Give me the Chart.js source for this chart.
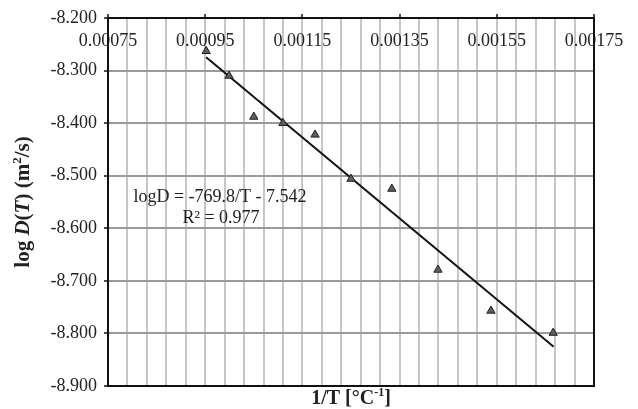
<!DOCTYPE html>
<html><head><meta charset="utf-8">
<script src="https://cdn.jsdelivr.net/npm/chart.js@4/dist/chart.umd.min.js"></script>
<style>html,body{margin:0;padding:0;background:#fff;}#wrap{width:638px;height:409px;}</style>
</head><body><div id="wrap"><canvas id="c" width="638" height="409"></canvas></div>
<script>
// ---- data ----
const invT = [0.000952, 0.000999, 0.00105, 0.00111, 0.001176, 0.00125, 0.001334, 0.001429, 0.001538, 0.001666];
const logD = [-8.263, -8.310, -8.388, -8.400, -8.422, -8.506, -8.525, -8.679, -8.757, -8.799];
const fitSlope = -769.8;
const fitIntercept = -7.542;
const fitRange = [0.000952, 0.001667];
const xTickLabels = ['0.00075', '0.00095', '0.00115', '0.00135', '0.00155', '0.00175'];
const yTickLabels = ['-8.900', '-8.800', '-8.700', '-8.600', '-8.500', '-8.400', '-8.300', '-8.200'];
const eqLines = ['logD = -769.8/T - 7.542', 'R\u00b2 = 0.977'];

const SERIF = '"Liberation Serif", "Times New Roman", serif';

const points = invT.map((x, i) => ({x: x, y: logD[i]}));
const fitLine = fitRange.map(x => ({x: x, y: fitSlope * x + fitIntercept}));

const textPlugin = {
  id: 'texts',
  afterDatasetsDraw(chart) {
    const ctx = chart.ctx;
    ctx.save();
    ctx.fillStyle = '#222';
    ctx.font = '18px ' + SERIF;
    ctx.textAlign = 'center';
    ctx.textBaseline = 'middle';
    ctx.fillText(eqLines[0], 220, 197);
    ctx.fillText(eqLines[1], 221, 218);

    // y axis title with italic parts
    const segs = [['log ', 'bold'], ['D', 'italic bold'], ['(', 'bold'], ['T', 'italic bold'], [') (m', 'bold'], ['2', 'sup'], ['/s)', 'bold']];
    const fontY = s => s === 'sup' ? 'bold 13px ' + SERIF : s + ' 21px ' + SERIF;
    const fontX = s => s === 'sup' ? 'bold 12px ' + SERIF : s + ' 20px ' + SERIF;
    let total = 0;
    segs.forEach(s => { ctx.font = fontY(s[1]); total += ctx.measureText(s[0]).width; });
    ctx.translate(24, 202);
    ctx.rotate(-Math.PI / 2);
    ctx.textAlign = 'left';
    let x = -total / 2;
    segs.forEach(s => {
      ctx.font = fontY(s[1]);
      ctx.fillText(s[0], x, s[1] === 'sup' ? -6 : 0);
      x += ctx.measureText(s[0]).width;
    });
    ctx.setTransform(1, 0, 0, 1, 0, 0);

    // x axis title
    const xs = [['1/T [\u00b0C', 'bold'], ['-1', 'sup'], [']', 'bold']];
    total = 0;
    xs.forEach(s => { ctx.font = fontX(s[1]); total += ctx.measureText(s[0]).width; });
    x = 351 - total / 2;
    xs.forEach(s => {
      ctx.font = fontX(s[1]);
      ctx.fillText(s[0], x, s[1] === 'sup' ? 393 : 399);
      x += ctx.measureText(s[0]).width;
    });
    ctx.restore();
  }
};

new Chart(document.getElementById('c'), {
  type: 'scatter',
  data: {
    datasets: [
      {
        type: 'line', data: fitLine, borderColor: '#111', borderWidth: 2,
        pointRadius: 0, fill: false, tension: 0, order: 2
      },
      {
        data: points, pointStyle: 'triangle', pointRadius: 4.8,
        backgroundColor: '#5e5e5e', borderColor: '#222', borderWidth: 1, order: 1
      }
    ]
  },
  options: {
    responsive: false,
    animation: false,
    devicePixelRatio: 1,
    layout: {padding: {left: 0, top: 14, right: 44, bottom: 0}},
    plugins: {legend: {display: false}, tooltip: {enabled: false}},
    scales: {
      x: {
        type: 'linear', position: 'top', min: 0.00075, max: 0.00175,
        afterFit: s => { s.height = 4; },
        ticks: {
          stepSize: 0.00004, autoSkip: false, maxRotation: 0, minRotation: 0,
          mirror: true, padding: 12, color: '#222', font: {family: SERIF, size: 18},
          callback: (v, i) => (i % 5 === 0 ? xTickLabels[i / 5] : '')
        },
        grid: {
          color: '#c6c6ca', lineWidth: 2, tickLength: 4,
          tickColor: c => (c.index % 5 === 0 ? '#111' : 'rgba(0,0,0,0)'), tickWidth: 1.5
        },
        border: {display: true, color: '#111', width: 2}
      },
      x2: {
        type: 'linear', position: 'bottom', min: 0.00075, max: 0.00175,
        afterFit: s => { s.height = 23; },
        ticks: {display: false},
        grid: {display: true, drawOnChartArea: false, drawTicks: false},
        border: {display: true, color: '#111', width: 2}
      },
      y: {
        type: 'linear', position: 'left', min: -8.9, max: -8.2,
        afterFit: s => { s.width = 108; },
        ticks: {
          stepSize: 0.1, padding: 7, color: '#222', font: {family: SERIF, size: 18},
          callback: (v, i) => yTickLabels[i]
        },
        grid: {color: '#9a9a9a', lineWidth: 2, tickLength: 4, tickColor: '#111', tickWidth: 1.5},
        border: {display: true, color: '#111', width: 2}
      },
      y2: {
        type: 'linear', position: 'right', min: -8.9, max: -8.2,
        afterFit: s => { s.width = 0; },
        ticks: {display: false},
        grid: {display: true, drawOnChartArea: false, drawTicks: false},
        border: {display: true, color: '#111', width: 2}
      }
    }
  },
  plugins: [textPlugin]
});
</script>
</body></html>
